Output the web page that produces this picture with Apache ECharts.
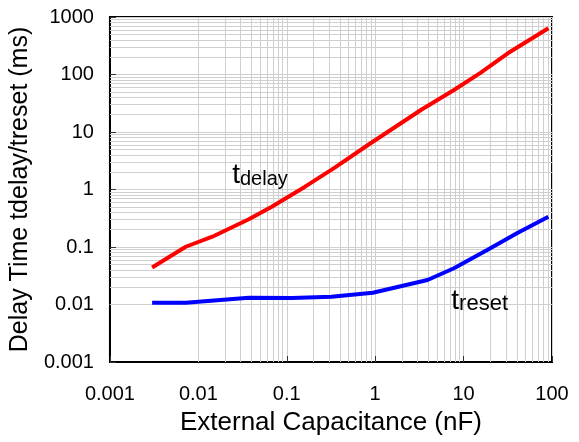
<!DOCTYPE html>
<html>
<head>
<meta charset="utf-8">
<script src="https://cdn.jsdelivr.net/npm/echarts@6/dist/echarts.min.js"></script>
<style>
html,body{margin:0;padding:0;background:#fff;}
#chart{width:579px;height:442px;}
</style>
</head>
<body>
<div id="chart"></div>
<script>
// Data (x: nF, y: ms)
var tdelayX = [0.003, 0.0072, 0.0144, 0.0372, 0.0677, 0.161, 0.349, 0.828, 3.29, 7.78, 15.5, 33.7, 91];
var tdelayY = [0.044, 0.101, 0.151, 0.303, 0.502, 1.12, 2.4, 5.94, 24.1, 53.7, 107, 249, 636];
var tresetX = [0.003, 0.0072, 0.0372, 0.114, 0.32, 0.94, 3.91, 7.78, 18.5, 40.1, 91];
var tresetY = [0.0107, 0.0107, 0.0131, 0.013, 0.0137, 0.016, 0.0267, 0.0427, 0.0887, 0.173, 0.336];
var xTickLabels = ['0.001', '0.01', '0.1', '1', '10', '100'];
var yTickLabels = ['0.001', '0.01', '0.1', '1', '10', '100', '1000'];
var xDecades = [0.001, 0.01, 0.1, 1, 10];
var yDecades = [0.001, 0.01, 0.1, 1, 10, 100];
var xTitle = 'External Capacitance (nF)';
var yTitle = 'Delay Time tdelay/treset (ms)';

function pairs(xs, ys) { return xs.map(function (x, i) { return [x, ys[i]]; }); }
var minorLines = [];
xDecades.forEach(function (d) { for (var k = 2; k <= 9; k++) minorLines.push({ xAxis: d * k }); });
yDecades.forEach(function (d) { for (var k = 2; k <= 9; k++) minorLines.push({ yAxis: d * k }); });

var FONT = '"Liberation Sans", Arial, sans-serif';
var chart = echarts.init(document.getElementById('chart'));
chart.setOption({
  animation: false,
  grid: { left: 107, right: 27, top: 17, bottom: 80, show: true, borderColor: '#000', borderWidth: 2, backgroundColor: 'transparent' },
  xAxis: {
    type: 'log', logBase: 10, min: 0.001, max: 100,
    name: xTitle, nameLocation: 'middle', nameGap: 48,
    nameTextStyle: { fontFamily: FONT, fontSize: 26, color: '#000' },
    axisLine: { lineStyle: { color: '#000', width: 2 } },
    axisTick: { inside: true, length: 6, lineStyle: { color: '#333', width: 1 } },
    axisLabel: { fontFamily: FONT, fontSize: 20, color: '#000', margin: 22,
      formatter: function (v) { return xTickLabels[Math.round(Math.log10(v)) + 3]; } },
    splitLine: { show: true, lineStyle: { color: '#cfcfcf', width: 1 } }
  },
  yAxis: {
    type: 'log', logBase: 10, min: 0.001, max: 1000,
    name: yTitle, nameLocation: 'middle', nameGap: 75,
    nameTextStyle: { fontFamily: FONT, fontSize: 25, color: '#000' },
    axisLine: { lineStyle: { color: '#000', width: 2 } },
    axisTick: { inside: true, length: 6, lineStyle: { color: '#333', width: 1 } },
    axisLabel: { fontFamily: FONT, fontSize: 20, color: '#000', margin: 16,
      formatter: function (v) { return yTickLabels[Math.round(Math.log10(v)) + 3]; } },
    splitLine: { show: true, lineStyle: { color: '#cfcfcf', width: 1 } }
  },
  series: [
    {
      type: 'line', data: [], z: 1, silent: true,
      markLine: { silent: true, symbol: ['none', 'none'], label: { show: false },
        lineStyle: { color: '#cfcfcf', width: 1, type: 'solid' }, data: minorLines, animation: false }
    },
    {
      name: 'tdelay', type: 'line', zlevel: 1, z: 3, data: pairs(tdelayX, tdelayY), showSymbol: false, symbol: 'none',
      lineStyle: { color: '#ff0000', width: 4 },
      markPoint: { symbol: 'circle', symbolSize: 0, data: [{ coord: [0.0498, 1.86] }],
        label: { show: true, position: 'inside', formatter: '{t|t}{s|delay}',
          rich: { t: { fontFamily: FONT, fontSize: 28, color: '#000', verticalAlign: 'bottom', lineHeight: 30 },
                  s: { fontFamily: FONT, fontSize: 20, color: '#000', verticalAlign: 'bottom', lineHeight: 30 } } } }
    },
    {
      name: 'treset', type: 'line', zlevel: 1, z: 3, data: pairs(tresetX, tresetY), showSymbol: false, symbol: 'none',
      lineStyle: { color: '#0000ff', width: 4 },
      markPoint: { symbol: 'circle', symbolSize: 0, data: [{ coord: [15.2, 0.0118] }],
        label: { show: true, position: 'inside', formatter: '{t|t}{s|reset}',
          rich: { t: { fontFamily: FONT, fontSize: 28, color: '#000', verticalAlign: 'bottom', lineHeight: 30 },
                  s: { fontFamily: FONT, fontSize: 22, color: '#000', verticalAlign: 'bottom', lineHeight: 30 } } } }
    }
  ]
});
</script>
</body>
</html>
